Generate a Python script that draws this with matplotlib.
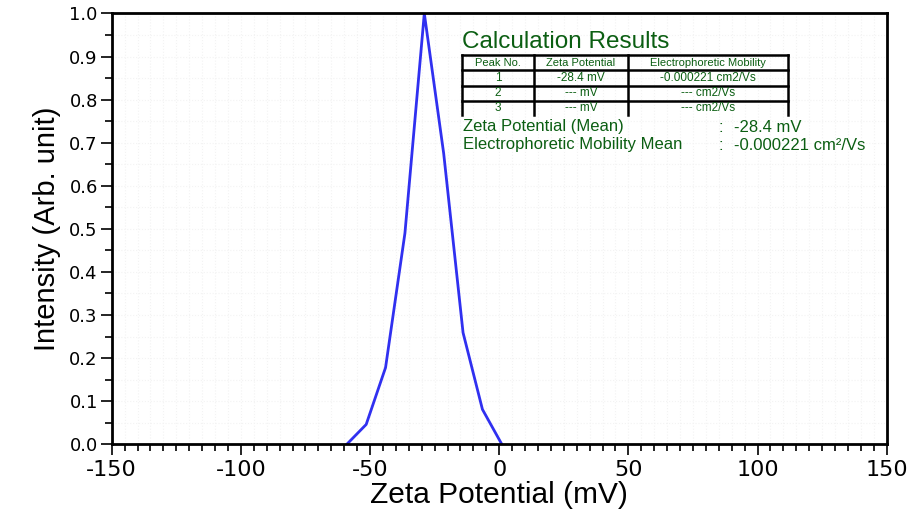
import numpy as np
import matplotlib
matplotlib.use("Agg")
import matplotlib.pyplot as plt
from matplotlib.ticker import MultipleLocator

plt.rcParams['font.family'] = ['Liberation Sans', 'DejaVu Sans']

# data
zeta = [-59, -51.5, -44, -36.5, -29, -21.5, -14, -6.5, 1]
intensity = [0.0, 0.046, 0.178, 0.49, 1.0, 0.675, 0.259, 0.081, 0.0]

peak_no = ["1", "2", "3"]
peak_zeta = ["-28.4 mV", "--- mV", "--- mV"]
peak_mob = ["-0.000221 cm2/Vs", "--- cm2/Vs", "--- cm2/Vs"]
mean_zeta = "-28.4 mV"
mean_mob = "-0.000221 cm\u00b2/Vs"

green = '#0b5e12'

fig = plt.figure(figsize=(9.15, 5.16), dpi=100)
ax = fig.add_axes([0.1221, 0.139, 0.8470, 0.835])

ax.plot(zeta, intensity, color='#3030f0', lw=2)

ax.set_xlim(-150, 150)
ax.set_ylim(0, 1.0)
ax.xaxis.set_major_locator(MultipleLocator(50))
ax.xaxis.set_minor_locator(MultipleLocator(5))
ax.yaxis.set_major_locator(MultipleLocator(0.1))
ax.yaxis.set_minor_locator(MultipleLocator(0.05))
ax.xaxis.set_major_formatter(plt.FuncFormatter(lambda v, p: "%d" % v))
ax.yaxis.set_major_formatter(plt.FuncFormatter(lambda v, p: "%.1f" % v))

ax.grid(which='both', color='#f3f3f3', lw=0.8, ls=':')
ax.tick_params(which='major', length=8, width=1.2, direction='out')
ax.tick_params(which='minor', length=5, width=1.2, direction='out')
ax.tick_params(axis='x', pad=3)
ax.tick_params(axis='y', pad=2)
for lab in ax.get_xticklabels():
    lab.set_family('DejaVu Sans')
    lab.set_fontsize(16)
for lab in ax.get_yticklabels():
    lab.set_family('DejaVu Sans')
    lab.set_fontsize(13)
for s in ax.spines.values():
    s.set_linewidth(2)

ax.set_xlabel("Zeta Potential (mV)", fontsize=21.5, labelpad=1)
ax.set_ylabel("Intensity (Arb. unit)", fontsize=21, labelpad=6)

# results box, figure pixel coordinates
W, H = 915.0, 516.0
def fx(x):
    return x / W
def fy(y):
    return 1 - y / H

fig.text(fx(462), fy(42), "Calculation Results", color=green, fontsize=17.5, va='center', ha='left')

cols = [462, 534, 628, 788]
rows = [55, 70, 86, 101, 115]
for y in rows[:4]:
    fig.add_artist(plt.Line2D([fx(cols[0]), fx(cols[-1])], [fy(y), fy(y)], color='black', lw=1.8))
for x in cols:
    fig.add_artist(plt.Line2D([fx(x), fx(x)], [fy(rows[0]), fy(rows[-1])], color='black', lw=1.8))

header = ["Peak No.", "Zeta Potential", "Electrophoretic Mobility"]
for j, h in enumerate(header):
    fig.text(fx((cols[j] + cols[j + 1]) / 2), fy(62.5), h, color=green, fontsize=8,
             ha='center', va='center')
for i in range(3):
    yc = (rows[i + 1] + rows[i + 2]) / 2
    vals = [peak_no[i], peak_zeta[i], peak_mob[i]]
    for j, v in enumerate(vals):
        fig.text(fx((cols[j] + cols[j + 1]) / 2), fy(yc), v, color=green, fontsize=8.5,
                 ha='center', va='center')

fig.text(fx(463), fy(127), "Zeta Potential (Mean)", color=green, fontsize=12, va='center')
fig.text(fx(719), fy(127), ":", color=green, fontsize=12, va='center')
fig.text(fx(734), fy(127), mean_zeta, color=green, fontsize=12, va='center')
fig.text(fx(463), fy(145), "Electrophoretic Mobility Mean", color=green, fontsize=12, va='center')
fig.text(fx(719), fy(145), ":", color=green, fontsize=12, va='center')
fig.text(fx(734), fy(145), mean_mob, color=green, fontsize=12, va='center')

fig.savefig("out.png", dpi=100)
